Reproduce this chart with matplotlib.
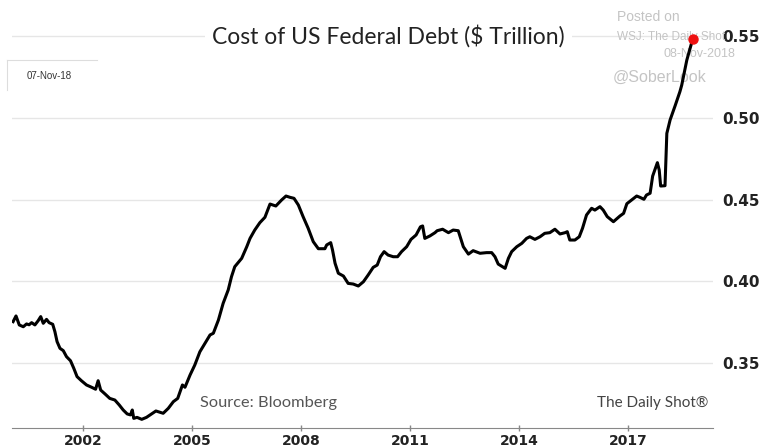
import matplotlib
matplotlib.use('Agg')
import matplotlib.pyplot as plt
from matplotlib.lines import Line2D

# ── DATA: interest cost of US federal debt, $ trillion ──────────────────────
years = [
    2000.08, 2000.16, 2000.25, 2000.36, 2000.45, 2000.52, 2000.59, 2000.68,
    2000.77, 2000.84, 2000.91, 2001.00, 2001.07, 2001.17, 2001.23, 2001.29,
    2001.37, 2001.46, 2001.55, 2001.66, 2001.75, 2001.84, 2001.96, 2002.10,
    2002.24, 2002.35, 2002.42, 2002.49, 2002.61, 2002.74, 2002.88, 2003.00,
    2003.11, 2003.22, 2003.31, 2003.36, 2003.40, 2003.49, 2003.62, 2003.75,
    2003.89, 2004.01, 2004.10, 2004.21, 2004.35, 2004.49, 2004.61, 2004.74,
    2004.81, 2004.95, 2005.08, 2005.22, 2005.36, 2005.50, 2005.59, 2005.73,
    2005.86, 2006.00, 2006.09, 2006.18, 2006.37, 2006.51, 2006.60, 2006.73,
    2006.87, 2007.01, 2007.15, 2007.31, 2007.47, 2007.59, 2007.70, 2007.81,
    2007.93, 2008.06, 2008.20, 2008.34, 2008.48, 2008.66, 2008.71, 2008.82,
    2008.87, 2008.94, 2009.03, 2009.17, 2009.30, 2009.44, 2009.58, 2009.72,
    2009.85, 2009.99, 2010.10, 2010.19, 2010.29, 2010.40, 2010.54, 2010.66,
    2010.77, 2010.91, 2011.03, 2011.17, 2011.29, 2011.35, 2011.41, 2011.55,
    2011.69, 2011.75, 2011.90, 2012.06, 2012.19, 2012.33, 2012.47, 2012.61,
    2012.74, 2012.93, 2013.11, 2013.25, 2013.34, 2013.43, 2013.52, 2013.62,
    2013.71, 2013.80, 2013.94, 2014.08, 2014.21, 2014.30, 2014.44, 2014.58,
    2014.71, 2014.85, 2014.99, 2015.13, 2015.27, 2015.33, 2015.40, 2015.54,
    2015.66, 2015.75, 2015.86, 2016.00, 2016.09, 2016.23, 2016.32, 2016.43,
    2016.60, 2016.78, 2016.88, 2016.97, 2017.10, 2017.24, 2017.33, 2017.44,
    2017.51, 2017.61, 2017.68, 2017.81, 2017.86, 2017.90, 2018.02, 2018.07,
    2018.16, 2018.30, 2018.43, 2018.48, 2018.62, 2018.78,
]
cost = [
    0.3754, 0.3789, 0.3734, 0.3723, 0.3740, 0.3735, 0.3748, 0.3734,
    0.3760, 0.3785, 0.3744, 0.3768, 0.3748, 0.3738, 0.3693, 0.3632,
    0.3591, 0.3577, 0.3540, 0.3515, 0.3469, 0.3418, 0.3393, 0.3367,
    0.3353, 0.3341, 0.3393, 0.3336, 0.3312, 0.3285, 0.3275, 0.3245,
    0.3214, 0.3190, 0.3184, 0.3214, 0.3163, 0.3169, 0.3157, 0.3169,
    0.3190, 0.3208, 0.3202, 0.3194, 0.3224, 0.3265, 0.3285, 0.3367,
    0.3353, 0.3428, 0.3489, 0.3570, 0.3622, 0.3673, 0.3683, 0.3764,
    0.3866, 0.3948, 0.4029, 0.4090, 0.4141, 0.4212, 0.4263, 0.4314,
    0.4359, 0.4392, 0.4473, 0.4461, 0.4498, 0.4522, 0.4514, 0.4508,
    0.4467, 0.4396, 0.4325, 0.4243, 0.4200, 0.4200, 0.4223, 0.4237,
    0.4192, 0.4111, 0.4050, 0.4033, 0.3988, 0.3984, 0.3972, 0.3998,
    0.4039, 0.4086, 0.4100, 0.4151, 0.4182, 0.4161, 0.4151, 0.4151,
    0.4182, 0.4212, 0.4257, 0.4284, 0.4334, 0.4339, 0.4263, 0.4278,
    0.4298, 0.4310, 0.4319, 0.4298, 0.4314, 0.4310, 0.4212, 0.4167,
    0.4188, 0.4172, 0.4176, 0.4176, 0.4151, 0.4106, 0.4094, 0.4080,
    0.4141, 0.4182, 0.4212, 0.4233, 0.4263, 0.4273, 0.4257, 0.4273,
    0.4294, 0.4298, 0.4319, 0.4290, 0.4298, 0.4304, 0.4253, 0.4253,
    0.4273, 0.4325, 0.4406, 0.4447, 0.4436, 0.4457, 0.4436, 0.4396,
    0.4365, 0.4400, 0.4416, 0.4475, 0.4498, 0.4522, 0.4514, 0.4502,
    0.4528, 0.4539, 0.4644, 0.4726, 0.4681, 0.4583, 0.4585, 0.4905,
    0.4987, 0.5075, 0.5160, 0.5200, 0.5353, 0.5480,
]
x_ticks = [2002, 2005, 2008, 2011, 2014, 2017]
y_ticks = [0.35, 0.40, 0.45, 0.50, 0.55]

GRID = '#e6e6e6'
WM = '#c4c4c4'

fig = plt.figure(figsize=(7.65, 4.47), dpi=100)
ax = fig.add_axes([0.0157, 0.0425, 0.9163, 0.9135])

ax.plot(years, cost, color='black', lw=2.2, solid_joinstyle='round', zorder=3)
ax.plot(years[-1], cost[-1], 'o', color='#ee1111', ms=6.5, zorder=4)

ax.set_xlim(2000.05, 2019.34)
ax.set_ylim(0.3104, 0.56)

ax.set_xticks(x_ticks)
ax.set_xticklabels([str(t) for t in x_ticks])
ax.set_yticks(y_ticks)
ax.set_yticklabels([f'{t:.2f}' for t in y_ticks])
ax.yaxis.tick_right()
ax.tick_params(axis='y', length=0, pad=7, labelsize=11, labelcolor='#222222')
ax.tick_params(axis='x', direction='inout', length=5, width=1, color='#888888',
               labelsize=10, labelcolor='#222222', pad=1.5)
for lab in ax.get_xticklabels() + ax.get_yticklabels():
    lab.set_fontweight('bold')
for lab in ax.get_yticklabels():
    lab.set_bbox(dict(facecolor='white', edgecolor='none', pad=1.5))

ax.grid(axis='y', color=GRID, lw=1)
ax.set_axisbelow(True)
for side in ['top', 'right', 'left']:
    ax.spines[side].set_visible(False)
ax.spines['bottom'].set_color('#888888')

# watermark texts sit beneath the grid and the series
wm = dict(color=WM, family='Liberation Sans', clip_on=False, zorder=1,
          transform=ax.transAxes)
ax.text(0.863, 1.007, 'Posted on', fontsize=10, ha='left', va='center', **wm)
ax.text(0.863, 0.958, 'WSJ: The Daily Shot', fontsize=8.5, ha='left', va='center', **wm)
ax.text(0.929, 0.917, '08-Nov-2018', fontsize=9, ha='left', va='center', **wm)
ax.text(0.857, 0.858, '@SoberLook', fontsize=11.5, ha='left', va='center', **wm)

# title box laid over the top gridline
fig.text(0.508, 0.919, 'Cost of US Federal Debt ($ Trillion)', fontsize=16.5,
         family='Lato', color='#222222', ha='center', va='center',
         bbox=dict(facecolor='white', edgecolor='none', pad=5))

ax.text(0.268, 0.061, 'Source: Bloomberg', transform=ax.transAxes, fontsize=11.8,
        family='Lato', color='#555555', ha='left', va='center')
ax.text(0.993, 0.061, 'The Daily Shot\u00ae', transform=ax.transAxes, fontsize=11,
        family='Lato', color='#444444', ha='right', va='center')

# small date stamp box at upper left
fig.add_artist(Line2D([7 / 765, 97 / 765], [1 - 60 / 447, 1 - 60 / 447],
                      color='#dddddd', lw=0.8))
fig.add_artist(Line2D([7 / 765, 7 / 765], [1 - 60 / 447, 1 - 90 / 447],
                      color='#dddddd', lw=0.8))
fig.text(27 / 765, 1 - 76 / 447, '07-Nov-18', fontsize=7, family='Liberation Sans',
         color='#333333', ha='left', va='center')

fig.savefig('out.png', dpi=100, facecolor='white')
